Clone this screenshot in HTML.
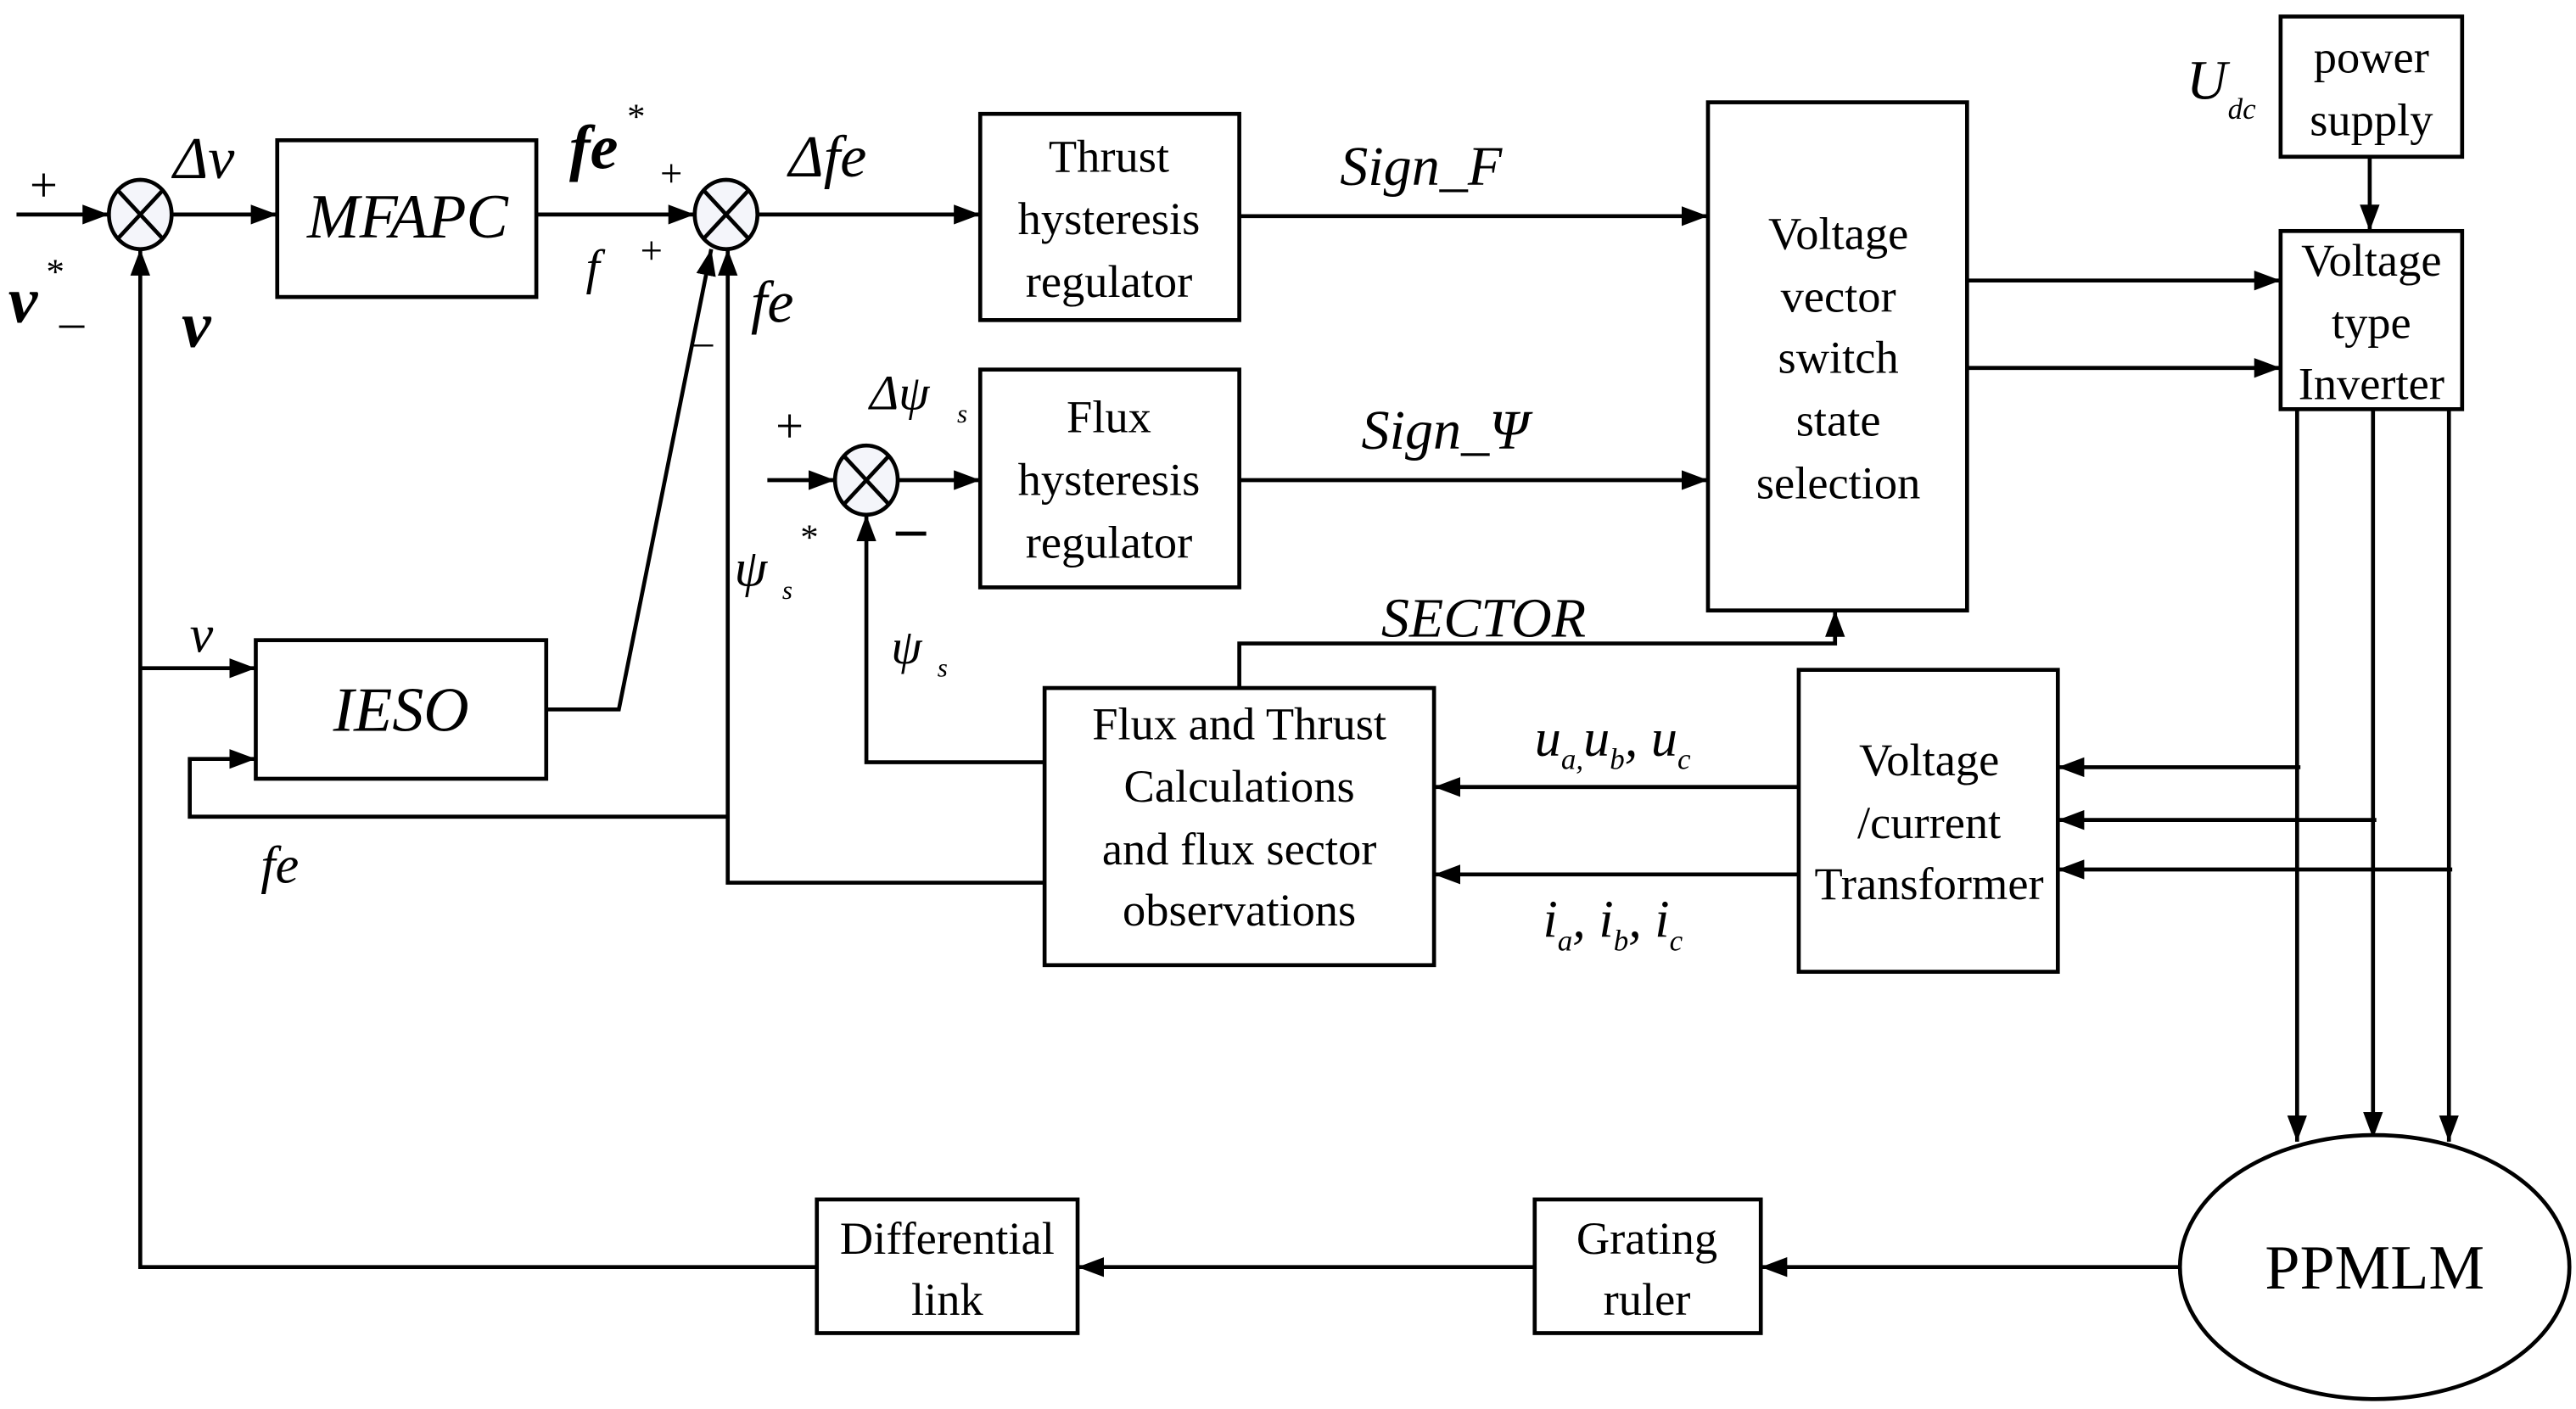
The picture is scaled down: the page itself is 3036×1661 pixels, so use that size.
<!DOCTYPE html>
<html><head><meta charset="utf-8"><style>html,body{margin:0;padding:0;background:#fff;}svg{display:block}
text{font-family:"Liberation Serif","DejaVu Serif",serif;fill:#000}</style></head>
<body>
<svg width="3036" height="1661" viewBox="0 0 1561 854" xmlns="http://www.w3.org/2000/svg">
<defs>
<marker id="a" viewBox="0 0 16 12" refX="16" refY="6" markerWidth="16" markerHeight="12" orient="auto" markerUnits="userSpaceOnUse">
<path d="M0,0 L16,6 L0,12 z" fill="#000"/></marker>
</defs>
<style>
.l{stroke:#000;stroke-width:2.4;fill:none}
.b{stroke:#000;stroke-width:2.4;fill:#fff}
.t{font-size:28px;text-anchor:middle}
.i{font-style:italic}
.big{font-size:38px}
</style>
<g class="l">
<ellipse cx="85" cy="130" rx="19" ry="21" fill="#f4f5fa"/><path d="M72,116 L98,144 M98,116 L72,144"/>
<ellipse cx="440" cy="130" rx="19" ry="21" fill="#f4f5fa"/><path d="M427,116 L453,144 M453,116 L427,144"/>
<ellipse cx="525" cy="291" rx="19" ry="21" fill="#f4f5fa"/><path d="M512,277 L538,305 M538,277 L512,305"/>
<path d="M10,130 H66" marker-end="url(#a)"/>
<path d="M104,130 H168" marker-end="url(#a)"/>
<path d="M325,130 H421" marker-end="url(#a)"/>
<path d="M459,130 H594" marker-end="url(#a)"/>
<path d="M751,131 H1035" marker-end="url(#a)"/>
<path d="M465,291 H506" marker-end="url(#a)"/>
<path d="M544,291 H594" marker-end="url(#a)"/>
<path d="M751,291 H1035" marker-end="url(#a)"/>
<path d="M1192,170 H1382" marker-end="url(#a)"/>
<path d="M1192,223 H1382" marker-end="url(#a)"/>
<path d="M1436,95 V140" marker-end="url(#a)"/>
<path d="M1392,248 V692" marker-end="url(#a)"/>
<path d="M1438,248 V690" marker-end="url(#a)"/>
<path d="M1484,248 V692" marker-end="url(#a)"/>
<path d="M1394,465 H1247" marker-end="url(#a)"/>
<path d="M1440,497 H1247" marker-end="url(#a)"/>
<path d="M1486,527 H1247" marker-end="url(#a)"/>
<path d="M1090,477 H869" marker-end="url(#a)"/>
<path d="M1090,530 H869" marker-end="url(#a)"/>
<path d="M751,417 V390 H1112 V370" marker-end="url(#a)"/>
<path d="M633,462 H525 V312" marker-end="url(#a)"/>
<path d="M633,535 H441 V151" marker-end="url(#a)"/>
<path d="M441,495 H115 V460 H155" marker-end="url(#a)"/>
<path d="M85,405 H155" marker-end="url(#a)"/>
<path d="M331,430 H375 L431,151" marker-end="url(#a)"/>
<path d="M1320,768 H1067" marker-end="url(#a)"/>
<path d="M930,768 H653" marker-end="url(#a)"/>
<path d="M495,768 H85 V151" marker-end="url(#a)"/>
</g>
<g class="b">
<rect x="168" y="85" width="157" height="95"/>
<rect x="594" y="69" width="157" height="125"/>
<rect x="594" y="224" width="157" height="132"/>
<rect x="1035" y="62" width="157" height="308"/>
<rect x="1382" y="10" width="110" height="85"/>
<rect x="1382" y="140" width="110" height="108"/>
<rect x="155" y="388" width="176" height="84"/>
<rect x="633" y="417" width="236" height="168"/>
<rect x="1090" y="406" width="157" height="183"/>
<rect x="495" y="727" width="158" height="81"/>
<rect x="930" y="727" width="137" height="81"/>
<ellipse cx="1439" cy="768" rx="118" ry="80"/>
</g>
<text class="t i big" x="247" y="144">MFAPC</text>
<text class="t" x="672" y="104">Thrust</text><text class="t" x="672" y="142">hysteresis</text><text class="t" x="672" y="180">regulator</text>
<text class="t" x="672" y="262">Flux</text><text class="t" x="672" y="300">hysteresis</text><text class="t" x="672" y="338">regulator</text>
<text class="t" x="1114" y="151">Voltage</text><text class="t" x="1114" y="189">vector</text><text class="t" x="1114" y="226">switch</text><text class="t" x="1114" y="264">state</text><text class="t" x="1114" y="302">selection</text>
<text class="t" x="1437" y="44">power</text><text class="t" x="1437" y="82">supply</text>
<text class="t" x="1437" y="167">Voltage</text><text class="t" x="1437" y="205">type</text><text class="t" x="1437" y="242">Inverter</text>
<text class="t i big" x="243" y="443">IESO</text>
<text class="t" x="751" y="448">Flux and Thrust</text><text class="t" x="751" y="486">Calculations</text><text class="t" x="751" y="524">and flux sector</text><text class="t" x="751" y="561">observations</text>
<text class="t" x="1169" y="470">Voltage</text><text class="t" x="1169" y="508">/current</text><text class="t" x="1169" y="545">Transformer</text>
<text class="t" x="574" y="760">Differential</text><text class="t" x="574" y="797">link</text>
<text class="t" x="998" y="760">Grating</text><text class="t" x="998" y="797">ruler</text>
<text class="t big" x="1439" y="781">PPMLM</text>
<text x="18" y="122" font-size="30">+</text>
<text x="5" y="195" font-size="40" font-style="italic" font-weight="bold">v</text>
<text x="28" y="172" font-size="22">*</text>
<text x="36" y="205" font-size="30">–</text>
<text x="105" y="108" font-size="36" font-style="italic">Δv</text>
<text x="110" y="210" font-size="40" font-style="italic" font-weight="bold">v</text>
<text x="345" y="102" font-size="38" font-style="italic" font-weight="bold">fe</text>
<text x="380" y="78" font-size="22">*</text>
<text x="400" y="113" font-size="24">+</text>
<text x="355" y="172" font-size="30" font-style="italic">f</text>
<text x="388" y="160" font-size="24">+</text>
<text x="455" y="195" font-size="36" font-style="italic">fe</text>
<text x="420" y="215" font-size="24">–</text>
<text x="478" y="107" font-size="36" font-style="italic">Δfe</text>
<text x="812" y="112" font-size="34" font-style="italic">Sign_F</text>
<text x="825" y="272" font-size="34" font-style="italic">Sign_Ψ</text>
<text x="470" y="268" font-size="30">+</text>
<text x="527" y="248" font-size="30" font-style="italic">Δψ</text><text x="580" y="256" font-size="16" font-style="italic">s</text>
<text x="543" y="332" font-size="36" font-weight="bold">–</text>
<text x="445" y="355" font-size="32" font-style="italic">ψ</text><text x="474" y="363" font-size="16" font-style="italic">s</text><text x="485" y="333" font-size="22">*</text>
<text x="540" y="402" font-size="30" font-style="italic">ψ</text><text x="568" y="410" font-size="16" font-style="italic">s</text>
<text x="837" y="386" font-size="34" font-style="italic">SECTOR</text>
<text x="930" y="458" font-size="32" font-style="italic">u<tspan font-size="18" dy="8">a,</tspan><tspan dy="-8">u</tspan><tspan font-size="18" dy="8">b</tspan><tspan dy="-8">, u</tspan><tspan font-size="18" dy="8">c</tspan></text>
<text x="935" y="568" font-size="32" font-style="italic">i<tspan font-size="18" dy="8">a</tspan><tspan dy="-8">, i</tspan><tspan font-size="18" dy="8">b</tspan><tspan dy="-8">, i</tspan><tspan font-size="18" dy="8">c</tspan></text>
<text x="115" y="395" font-size="32" font-style="italic">v</text>
<text x="158" y="535" font-size="32" font-style="italic">fe</text>
<text x="1325" y="60" font-size="34" font-style="italic">U</text><text x="1350" y="72" font-size="18" font-style="italic">dc</text>
</svg>
</body></html>
